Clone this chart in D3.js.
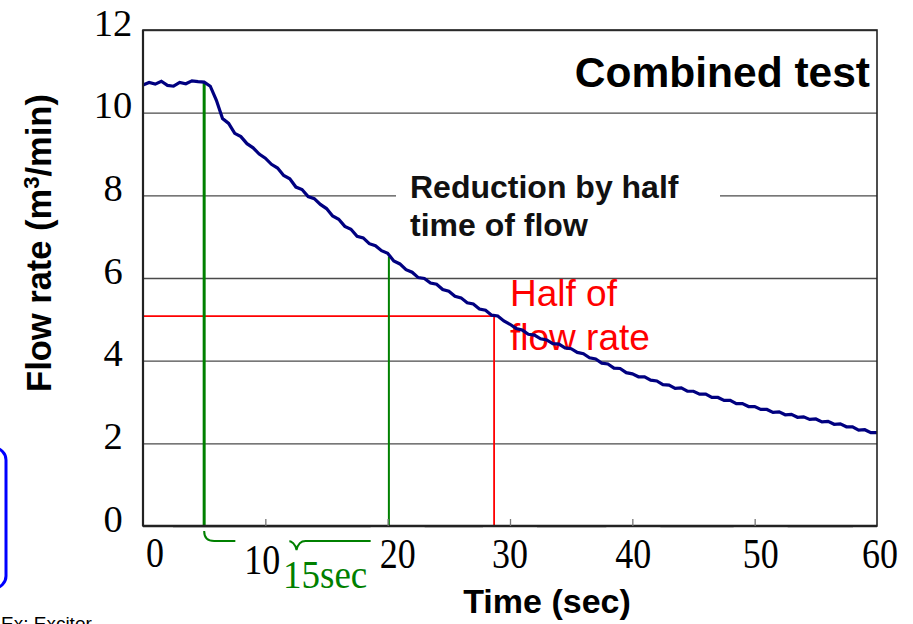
<!DOCTYPE html>
<html>
<head>
<meta charset="utf-8">
<script src="https://cdn.jsdelivr.net/npm/d3@7/dist/d3.min.js"></script>
<style>
  html, body { margin: 0; padding: 0; background: #fff; overflow: hidden; }
  svg { display: block; }
</style>
</head>
<body>
<svg id="chart" width="913" height="624"></svg>
<script>
// ---------------- data ----------------
const sampleStep = 0.5; // seconds between read samples
const flowRate = [
  10.67, 10.73, 10.69, 10.76, 10.66, 10.64, 10.73, 10.70, 10.77, 10.75, 10.74,
  10.64, 10.30, 9.86, 9.74, 9.50, 9.42, 9.25, 9.15, 9.00, 8.90,
  8.75, 8.66, 8.48, 8.40, 8.20, 8.14, 7.97, 7.92, 7.78, 7.68,
  7.50, 7.42, 7.25, 7.18, 7.01, 6.97, 6.83, 6.78, 6.66, 6.60,
  6.41, 6.34, 6.20, 6.14, 6.01, 5.99, 5.88, 5.85, 5.72, 5.68,
  5.56, 5.52, 5.40, 5.37, 5.25, 5.22, 5.10, 5.08, 4.96, 4.88,
  4.78, 4.74, 4.64, 4.62, 4.53, 4.50, 4.41, 4.40, 4.31, 4.29,
  4.20, 4.17, 4.07, 4.04, 3.94, 3.92, 3.82, 3.81, 3.71, 3.68,
  3.61, 3.61, 3.53, 3.51, 3.42, 3.41, 3.33, 3.34, 3.26, 3.26,
  3.19, 3.19, 3.11, 3.11, 3.04, 3.04, 2.96, 2.96, 2.89, 2.89,
  2.82, 2.82, 2.75, 2.76, 2.69, 2.70, 2.63, 2.64, 2.58, 2.59,
  2.52, 2.53, 2.46, 2.47, 2.40, 2.40, 2.32, 2.33, 2.26, 2.26
];
const xTicks = [0, 10, 20, 30, 40, 50, 60];
const yTicks = [0, 2, 4, 6, 8, 10, 12];
const startTime = 5.0;      // green line 1
const startFlow = 10.73;
const secondTime = 20.1;    // green line 2
const secondFlow = 6.52;
const halfTime = 28.7;      // red line
const halfFlow = 5.08;
const intervalLabel = "15sec";
const titleText = "Combined test";
const noteLines = ["Reduction by half", "time of flow"];
const halfLines = ["Half of", "flow rate"];

// label nudges (layout only)
const xLabelDx = [12, -3, 10, 0, 1, 6, 3];
const xLabelBase = [567, 574, 568, 568, 568, 568, 568];

// ---------------- layout ----------------
const svg = d3.select("#chart");
const L = 143, T = 30, R = 877, B = 526;
const x = d3.scaleLinear().domain([0, 60]).range([L, R]);
const y = d3.scaleLinear().domain([0, 12]).range([B, T]);
const serif = "'Liberation Serif', 'Times New Roman', serif";
const sans = "'Liberation Sans', Arial, sans-serif";
const digitStretch = 1.15;

const data = flowRate.map((v, i) => ({ t: i * sampleStep, v }));

// gridlines + y labels via axis
const gy = svg.append("g").attr("transform", `translate(${L},0)`)
  .call(d3.axisLeft(y).tickValues(yTicks).tickSize(-(R - L)).tickFormat(d3.format("d")));
gy.select(".domain").remove();
gy.selectAll(".tick line").attr("stroke", "#4a4a4a").attr("stroke-width", 1.3);
gy.selectAll(".tick text")
  .attr("x", -30).attr("y", 5).attr("dy", null)
  .attr("text-anchor", "middle")
  .style("font-family", serif).style("font-size", "38.5px").attr("fill", "#000");

// text box for note (white background over gridline)
const noteG = svg.append("g");
noteG.append("rect").attr("x", 396).attr("y", 168).attr("width", 324).attr("height", 78).attr("fill", "#fff");
noteG.selectAll("text").data(noteLines).join("text")
  .attr("x", 410).attr("y", (d, i) => 198 + i * 38)
  .style("font-family", sans).style("font-weight", "bold").style("font-size", "32px")
  .attr("fill", "#111").text(d => d);

// red half-of-flow text
svg.append("g").selectAll("text").data(halfLines).join("text")
  .attr("x", 510).attr("y", (d, i) => 306 + i * 44)
  .style("font-family", sans).style("font-size", "37px")
  .attr("fill", "#ff0000").text(d => d);

// reference lines
svg.append("line").attr("x1", x(0)).attr("x2", x(halfTime)).attr("y1", y(halfFlow)).attr("y2", y(halfFlow))
  .attr("stroke", "#ff0000").attr("stroke-width", 1.8);
svg.append("line").attr("x1", x(halfTime)).attr("x2", x(halfTime)).attr("y1", y(0)).attr("y2", y(halfFlow))
  .attr("stroke", "#ff0000").attr("stroke-width", 1.8);
svg.append("line").attr("x1", x(startTime)).attr("x2", x(startTime)).attr("y1", y(0)).attr("y2", y(startFlow))
  .attr("stroke", "#008000").attr("stroke-width", 3);
svg.append("line").attr("x1", x(secondTime)).attr("x2", x(secondTime)).attr("y1", y(0)).attr("y2", y(secondFlow))
  .attr("stroke", "#008000").attr("stroke-width", 2);

// curve
svg.append("path").datum(data)
  .attr("fill", "none").attr("stroke", "#000080").attr("stroke-width", 3.2)
  .attr("stroke-linejoin", "miter")
  .attr("d", d3.line().x(d => x(d.t)).y(d => y(d.v)));

// brace between green lines
const bx0 = x(startTime), bx1 = x(secondTime), bm = (bx0 + bx1) / 2, by = B + 15;
svg.append("path")
  .attr("d", `M${bx0},${B + 5} Q${bx0},${by} ${bx0 + 10},${by} L${bm - 9},${by} Q${bm - 2},${by} ${bm},${by + 9} Q${bm + 2},${by} ${bm + 9},${by} L${bx1 - 10},${by} Q${bx1},${by} ${bx1},${B + 5}`)
  .attr("fill", "none").attr("stroke", "#008000").attr("stroke-width", 2);

// x labels with white background
const xl = svg.append("g");
xTicks.forEach((t, i) => {
  const g = xl.append("g").attr("transform", `translate(${x(t) + xLabelDx[i]},${xLabelBase[i]})`);
  const txt = g.append("text")
    .attr("transform", `scale(1,${digitStretch})`)
    .attr("text-anchor", "middle")
    .style("font-family", serif).style("font-size", "36px").attr("fill", "#000")
    .text(t);
  const bb = txt.node().getBBox();
  g.insert("rect", "text").attr("x", bb.x - 9).attr("y", (bb.y - 4) * digitStretch)
    .attr("width", bb.width + 18).attr("height", (bb.height + 4) * digitStretch)
    .attr("fill", "#fff");
});

// frame (drawn over label backgrounds)
svg.append("rect").attr("x", L).attr("y", T).attr("width", R - L).attr("height", B - T)
  .attr("fill", "none").attr("stroke", "#222").attr("stroke-width", 1.6);
svg.append("line").attr("x1", L).attr("x2", R).attr("y1", B).attr("y2", B).attr("stroke", "#222").attr("stroke-width", 2.4);
svg.append("line").attr("x1", L).attr("x2", L).attr("y1", T).attr("y2", B).attr("stroke", "#222").attr("stroke-width", 2.2);

// x axis ticks (inside)
const gx = svg.append("g").attr("transform", `translate(0,${B})`)
  .call(d3.axisBottom(x).tickValues(xTicks.slice(1, -1)).tickSize(-7).tickFormat(""));
gx.select(".domain").remove();
gx.selectAll(".tick line").attr("stroke", "#777").attr("stroke-width", 1.3);

// 15sec label
svg.append("text").attr("transform", `translate(283,588) scale(1,1.08)`)
  .style("font-family", serif).style("font-size", "37px").attr("fill", "#008000").text(intervalLabel);

// title
svg.append("text").attr("x", 870).attr("y", 87).attr("text-anchor", "end")
  .style("font-family", sans).style("font-weight", "bold").style("font-size", "42.5px")
  .attr("fill", "#000").text(titleText);

// axis titles
svg.append("text").attr("x", 547).attr("y", 613).attr("text-anchor", "middle")
  .style("font-family", sans).style("font-weight", "bold").style("font-size", "34px")
  .attr("fill", "#000").text("Time (sec)");
const yt = svg.append("text").attr("transform", "translate(51,243) rotate(-90)").attr("text-anchor", "middle")
  .style("font-family", sans).style("font-weight", "bold").style("font-size", "34.5px").attr("fill", "#000");
yt.append("tspan").text("Flow rate (m");
yt.append("tspan").attr("dy", -12).style("font-size", "22px").text("3");
yt.append("tspan").attr("dy", 12).text("/min)");

// blue box at left edge & note
svg.append("rect").attr("x", -40).attr("y", 448).attr("width", 46).attr("height", 140).attr("rx", 12)
  .attr("fill", "none").attr("stroke", "#0000ff").attr("stroke-width", 3);
svg.append("text").attr("x", 1).attr("y", 630)
  .style("font-family", sans).style("font-size", "19px").attr("fill", "#000").text("Ex: Exciter");
</script>
</body>
</html>
